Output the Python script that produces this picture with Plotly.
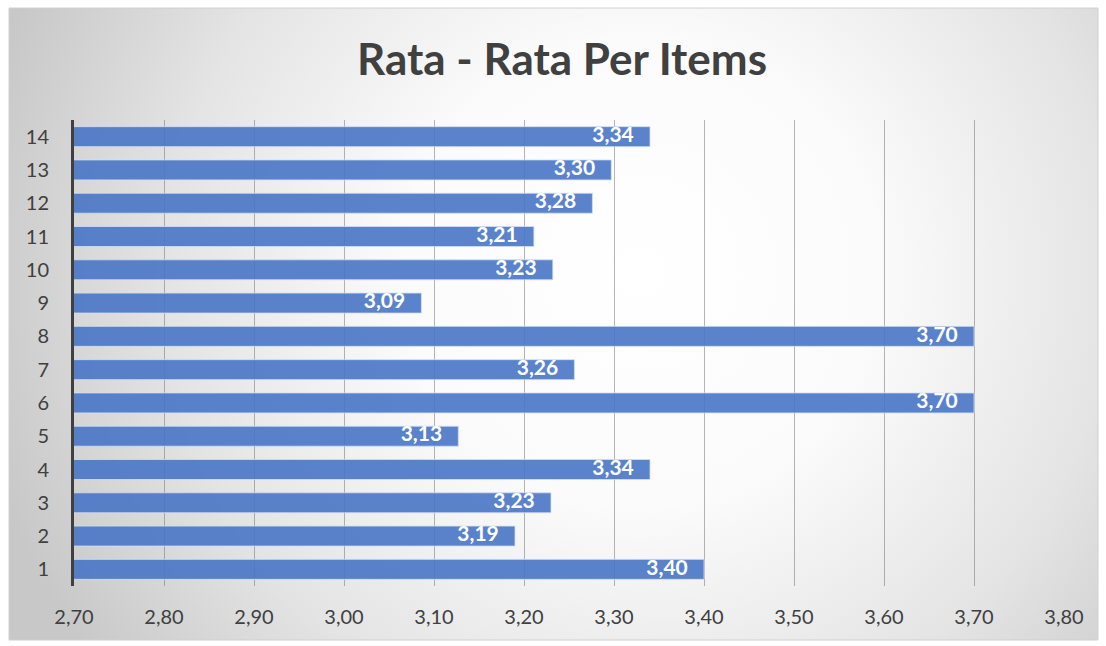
import plotly.graph_objects as go
import base64

categories = [str(i) for i in range(1, 15)]
values = [3.40, 3.19, 3.23, 3.34, 3.127, 3.70, 3.256, 3.70, 3.086, 3.232, 3.211, 3.276, 3.297, 3.34]
x_ticks = [2.7 + 0.1 * i for i in range(12)]
x_tick_labels = ["2,70", "2,80", "2,90", "3,00", "3,10", "3,20", "3,30", "3,40", "3,50", "3,60", "3,70", "3,80"]
title_text = "Rata - Rata Per Items"

labels = [f"{v:.2f}".replace(".", ",") for v in values]

W, H = 1106, 646
L, R, T, B = 74, 42, 120, 60
pw, ph = W - L - R, H - T - B

svg = f'''<svg xmlns="http://www.w3.org/2000/svg" width="1089" height="632" viewBox="0 0 1089 632" preserveAspectRatio="none">
<defs><radialGradient id="g" cx="0.58" cy="0.42" r="0.62" gradientTransform="translate(0.58,0.42) scale(1,1.7) translate(-0.58,-0.42)">
<stop offset="0" stop-color="#ffffff"/><stop offset="0.35" stop-color="#fbfbfb"/><stop offset="0.7" stop-color="#e4e4e4"/><stop offset="1" stop-color="#c8c8c8"/>
</radialGradient></defs>
<rect x="0" y="0" width="1089" height="632" fill="url(#g)"/></svg>'''
src = "data:image/svg+xml;base64," + base64.b64encode(svg.encode()).decode()

def px2fx(px):
    return (px - L) / pw

def py2fy(py):
    return 1 - (py - T) / ph

fig = go.Figure()
fig.add_trace(go.Bar(
    y=categories, x=values, orientation="h", width=0.6,
    marker=dict(color="rgba(72,117,198,0.9)", line=dict(color="rgba(210,222,245,0.8)", width=1)),
    hoverinfo="skip",
))
fig.add_trace(go.Scatter(
    y=categories, x=[v - 0.018 for v in values], mode="text", text=labels,
    textposition="middle left",
    textfont=dict(family="Lato", size=21, color="white", weight="bold"),
    hoverinfo="skip", showlegend=False,
))

fig.update_layout(
    width=W, height=H, margin=dict(l=L, r=R, t=T, b=B),
    paper_bgcolor="white", plot_bgcolor="rgba(0,0,0,0)",
    showlegend=False, bargap=0.4,
    title=dict(text=f"<b>{title_text}</b>", x=(562) / W, xanchor="center", y=1 - 60 / H, yanchor="middle",
               font=dict(family="Lato", size=44, color="#404040")),
    images=[dict(source=src, xref="paper", yref="paper", x=px2fx(9), y=py2fy(8),
                 sizex=(1098 - 9) / pw, sizey=(640 - 8) / ph, sizing="stretch",
                 xanchor="left", yanchor="top", layer="below")],
    shapes=[dict(type="rect", xref="paper", yref="paper", x0=px2fx(9), x1=px2fx(1098), y0=py2fy(640), y1=py2fy(8),
                 line=dict(color="#d0d0d0", width=1), layer="below")],
    font=dict(family="Lato", color="#404040"),
)
fig.update_xaxes(range=[2.7, 3.8], tickvals=x_ticks, ticktext=x_tick_labels, showgrid=True,
                 gridcolor="rgba(120,120,120,0.55)", gridwidth=1, zeroline=False, ticks="outside", ticklen=0,
                 ticklabelstandoff=13, tickfont=dict(size=20, color="#404040"), showline=False, automargin=False)
fig.update_yaxes(categoryorder="array", categoryarray=categories, range=[-0.5, 13.5], showgrid=False, zeroline=False,
                 showline=True, linecolor="#404040", linewidth=3, ticks="outside", ticklen=0,
                 ticklabelstandoff=18, tickfont=dict(size=20, color="#404040"), automargin=False)

fig.write_html("out.html")
